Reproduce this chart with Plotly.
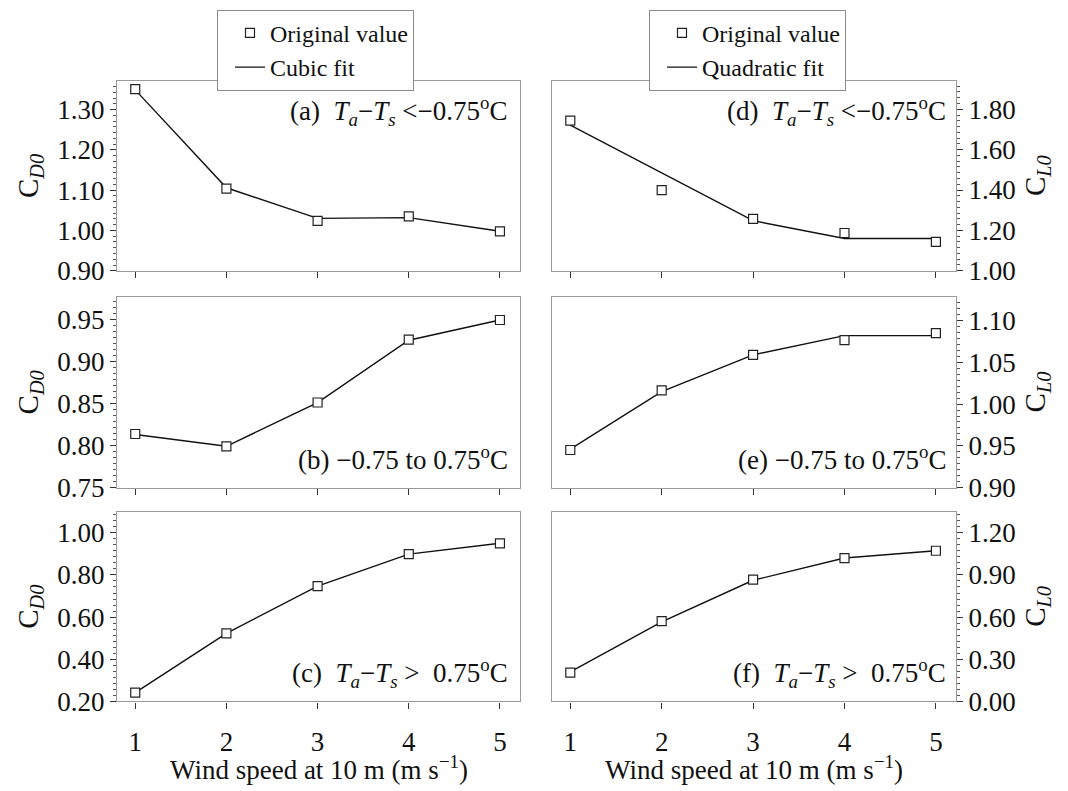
import plotly.graph_objects as go

W, H = 1068, 791
FONT = "Liberation Serif"

wind = [1, 2, 3, 4, 5]

# C_D0 original values and cubic fits
cd_a = [1.351, 1.104, 1.024, 1.035, 0.998]
cd_a_fit = [1.349, 1.106, 1.030, 1.032, 0.998]
cd_b = [0.8136, 0.799, 0.851, 0.9256, 0.949]
cd_b_fit = [0.813, 0.799, 0.851, 0.925, 0.949]
cd_c = [0.242, 0.523, 0.747, 0.899, 0.950]
cd_c_fit = [0.242, 0.523, 0.747, 0.899, 0.950]

# C_L0 original values and quadratic fits
cl_d = [1.744, 1.400, 1.257, 1.187, 1.143]
cl_d_fit = [1.722, 1.484, 1.248, 1.160, 1.160]
cl_e = [0.945, 1.0165, 1.059, 1.0766, 1.085]
cl_e_fit = [0.946, 1.015, 1.059, 1.082, 1.082]
cl_f = [0.205, 0.571, 0.867, 1.019, 1.072]
cl_f_fit = [0.210, 0.566, 0.862, 1.020, 1.072]

panel_labels = [
    "(a)  <i>T</i><sub><i>a</i></sub>\u2212<i>T</i><sub><i>s</i></sub> <\u22120.75<sup>o</sup>C",
    "(b) \u22120.75 to 0.75<sup>o</sup>C",
    "(c)  <i>T</i><sub><i>a</i></sub>\u2212<i>T</i><sub><i>s</i></sub> >  0.75<sup>o</sup>C",
    "(d)  <i>T</i><sub><i>a</i></sub>\u2212<i>T</i><sub><i>s</i></sub> <\u22120.75<sup>o</sup>C",
    "(e) \u22120.75 to 0.75<sup>o</sup>C",
    "(f)  <i>T</i><sub><i>a</i></sub>\u2212<i>T</i><sub><i>s</i></sub> >  0.75<sup>o</sup>C",
]
xtitle = "Wind speed at 10 m (m s<sup>\u22121</sup>)"
legend_left = ["Original value", "Cubic fit"]
legend_right = ["Original value", "Quadratic fit"]

# layout geometry (pixels)
col_x = [(117, 520), (552, 956)]
row_y = [(83, 276), (303, 497), (522, 715)]
yranges = [(0.90, 1.37), (0.75, 0.976), (0.20, 1.098),
           (1.00, 1.938), (0.90, 1.128), (0.00, 1.347)]
ydticks = [0.1, 0.05, 0.2, 0.2, 0.05, 0.3]

series = [(cd_a, cd_a_fit), (cd_b, cd_b_fit), (cd_c, cd_c_fit),
          (cl_d, cl_d_fit), (cl_e, cl_e_fit), (cl_f, cl_f_fit)]

FS = 27
fig = go.Figure()
layout = {}
annotations = []

for i in range(6):
    col = i // 3
    row = i % 3
    n = i + 1
    xs = "x" if n == 1 else f"x{n}"
    ys = "y" if n == 1 else f"y{n}"
    xk = "xaxis" if n == 1 else f"xaxis{n}"
    yk = "yaxis" if n == 1 else f"yaxis{n}"
    x0, x1 = col_x[col]
    yt, yb = row_y[row]
    xdom = [x0 / W, x1 / W]
    ydom = [1 - yb / H, 1 - yt / H]
    orig, fit = series[i]
    leg = "legend" if col == 0 else "legend2"
    names = legend_left if col == 0 else legend_right
    show = (row == 0)
    fig.add_trace(go.Scatter(
        x=wind, y=fit, mode="lines", xaxis=xs, yaxis=ys,
        line=dict(color="#111111", width=1.4),
        name=names[1], showlegend=show, legend=leg, legendrank=2))
    fig.add_trace(go.Scatter(
        x=wind, y=orig, mode="markers", xaxis=xs, yaxis=ys,
        marker=dict(symbol="square", size=9, color="white",
                    line=dict(color="#222222", width=1.2)),
        name=names[0], showlegend=show, legend=leg, legendrank=1))
    layout[xk] = dict(
        domain=xdom, anchor=ys, range=[0.8, 5.22],
        tickmode="array", tickvals=wind, ticktext=[str(v) for v in wind],
        ticks="outside", ticklen=6, tickcolor="#333333", tickwidth=1,
        showline=True, mirror=True, linecolor="#9a9a9a", linewidth=1.2,
        showgrid=False, zeroline=False,
        showticklabels=(row == 2), ticklabelstandoff=10,
        tickfont=dict(family=FONT, size=FS, color="#111111"),
    )
    d = ydticks[i]
    layout[yk] = dict(
        domain=ydom, anchor=xs, range=list(yranges[i]),
        side="left" if col == 0 else "right",
        tick0=yranges[i][0], dtick=d, tickformat=".2f",
        ticks="outside", ticklen=6, tickcolor="#333333", tickwidth=1,
        minor=dict(ticks="outside", ticklen=3, tick0=yranges[i][0],
                   dtick=d / 7, tickcolor="#555555"),
        showline=True, mirror=True, linecolor="#9a9a9a", linewidth=1.2,
        showgrid=False, zeroline=False,
        tickfont=dict(family=FONT, size=FS, color="#111111"),
    )
    # panel label
    label_y = [113, 467, 686][row]
    label_x = [510, 948][col]
    annotations.append(dict(
        text=panel_labels[i], xref="paper", yref="paper",
        x=label_x / W, y=1 - label_y / H, xanchor="right", yanchor="middle",
        showarrow=False, font=dict(family=FONT, size=FS, color="#111111")))
    # y-axis title
    ytxt = "C<sub><i>D0</i></sub>" if col == 0 else "C<sub><i>L0</i></sub>"
    annotations.append(dict(
        text=ytxt, xref="paper", yref="paper",
        x=(30 if col == 0 else 1037) / W, y=1 - (yt + yb) / 2 / H,
        xanchor="center", yanchor="middle", textangle=-90,
        showarrow=False, font=dict(family=FONT, size=29, color="#111111")))
    if row == 2:
        annotations.append(dict(
            text=xtitle, xref="paper", yref="paper",
            x=(x0 + x1) / 2 / W, y=1 - 783 / H,
            xanchor="center", yanchor="middle",
            showarrow=False, font=dict(family=FONT, size=FS, color="#111111")))

leg_common = dict(
    bgcolor="white", bordercolor="#8a8a8a", borderwidth=1,
    font=dict(family=FONT, size=24, color="#111111"),
    xanchor="left", yanchor="top", tracegroupgap=0, indentation=12,
)
fig.update_layout(
    width=W, height=H,
    margin=dict(l=0, r=0, t=0, b=0),
    paper_bgcolor="white", plot_bgcolor="white",
    legend=dict(x=217 / W, y=1 - 10 / H, **leg_common),
    legend2=dict(x=649 / W, y=1 - 10 / H, **leg_common),
    annotations=annotations,
    **layout,
)

fig.write_html("out.html")
